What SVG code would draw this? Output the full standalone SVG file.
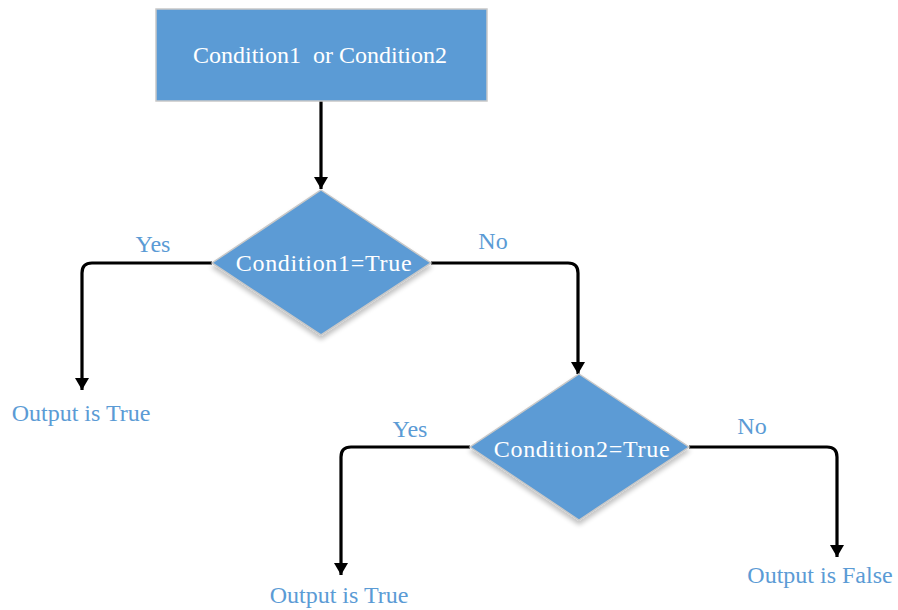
<svg xmlns="http://www.w3.org/2000/svg" width="898" height="610" viewBox="0 0 898 610">
<style>
.shape{fill:#5B9BD5;stroke:#C8C8C8;stroke-width:1.5}
.in{font-family:"Liberation Serif","Times New Roman",serif;font-size:24px;fill:#FFFFFF;text-anchor:middle}
.dt{letter-spacing:0.7px}
.lbl{font-family:"Liberation Serif","Times New Roman",serif;font-size:24px;fill:#5B9BD5;text-anchor:middle}
.edge{fill:none;stroke:#000000;stroke-width:3.2;stroke-linejoin:round}
</style>
<defs>
<marker id="arr" viewBox="0 0 12 14" refX="12" refY="7" markerWidth="12" markerHeight="14" markerUnits="userSpaceOnUse" orient="auto">
<path d="M0,0 L12,7 L0,14 Z" fill="#000000"/>
</marker>
<filter id="sh" x="-20%" y="-20%" width="140%" height="150%">
<feGaussianBlur in="SourceAlpha" stdDeviation="2.5"/>
<feOffset dx="0" dy="4" result="b"/>
<feComponentTransfer><feFuncA type="linear" slope="0.25"/></feComponentTransfer>
<feMerge><feMergeNode/><feMergeNode in="SourceGraphic"/></feMerge>
</filter>
</defs>
<g id="connectors">
<path class="edge" d="M321,101 L321,189" marker-end="url(#arr)"/>
<path class="edge" d="M212,263 L92,263 Q82,263 82,273 L82,390" marker-end="url(#arr)"/>
<path class="edge" d="M431,263 L568,263 Q578,263 578,273 L578,374" marker-end="url(#arr)"/>
<path class="edge" d="M470,447 L351,447 Q341,447 341,457 L341,575" marker-end="url(#arr)"/>
<path class="edge" d="M689,447 L827,447 Q837,447 837,457 L837,557" marker-end="url(#arr)"/>
<text class="lbl" x="153" y="252">Yes</text>
<text class="lbl" x="493" y="249">No</text>
<text class="lbl" x="410" y="437">Yes</text>
<text class="lbl" x="752" y="434">No</text>
</g>
<g id="start">
<rect class="shape" x="156" y="9" width="331" height="92"/>
<text class="in" x="320" y="63" xml:space="preserve">Condition1  or Condition2</text>
</g>
<g id="cond1">
<polygon class="shape" filter="url(#sh)" points="321,190 431,263 321,335 212,263"/>
<text class="in dt" x="324" y="271">Condition1=True</text>
</g>
<g id="cond2">
<polygon class="shape" filter="url(#sh)" points="579,374 689,447 579,520 470,447"/>
<text class="in dt" x="582" y="457">Condition2=True</text>
</g>
<g id="out1">
<text class="lbl" x="81" y="421">Output is True</text>
</g>
<g id="out2">
<text class="lbl" x="339" y="603">Output is True</text>
</g>
<g id="out3">
<text class="lbl" x="820" y="583">Output is False</text>
</g>
</svg>
